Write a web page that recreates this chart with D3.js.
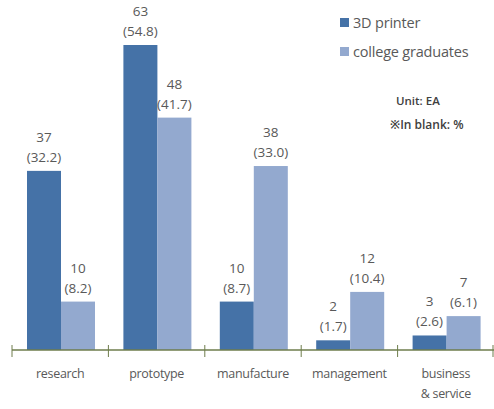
<!DOCTYPE html>
<html>
<head>
<meta charset="utf-8">
<script src="https://cdn.jsdelivr.net/npm/d3@7"></script>
<style>
body { margin: 0; background: #fff; }
text { font-family: "Open Sans", "Noto Sans", sans-serif; }
</style>
</head>
<body>
<div id="chart"></div>
<script>
var categories = ["research", "prototype", "manufacture", "management", "business\n& service"]
var printerCounts = [37, 63, 10, 2, 3]
var printerPct = ["32.2", "54.8", "8.7", "1.7", "2.6"]
var gradCounts = [10, 48, 38, 12, 7]
var gradPct = ["8.2", "41.7", "33.0", "10.4", "6.1"]
var seriesNames = ["3D printer", "college graduates"]
var colors = ["#4572a7", "#93a9cf"]

var width = 494
var height = 409
var svg = d3.select("#chart").append("svg").attr("width", width).attr("height", height)

var x = d3.scaleBand().domain(categories).range([12, 494]).paddingInner(0).paddingOuter(0)
var y = d3.scaleLinear().domain([0, 63]).range([350, 45])
var barW = 34
var offset = 15

var data = categories.map(function(c, i) {
    return {cat: c, vals: [
        {s: 0, v: printerCounts[i], p: printerPct[i]},
        {s: 1, v: gradCounts[i], p: gradPct[i]}
    ]}
})

var groups = svg.selectAll(".grp").data(data).enter().append("g")
    .attr("class", "grp")
    .attr("transform", function(d) { return "translate(" + x(d.cat) + ",0)" })

groups.selectAll("rect").data(function(d) { return d.vals }).enter().append("rect")
    .attr("x", function(d) { return offset + d.s * barW })
    .attr("y", function(d) { return y(d.v) })
    .attr("width", barW)
    .attr("height", function(d) { return y(0) - y(d.v) })
    .attr("fill", function(d) { return colors[d.s] })

// value labels
groups.selectAll(".val").data(function(d) { return d.vals }).enter().append("text")
    .attr("class", "val")
    .attr("x", function(d) { return offset + d.s * barW + barW / 2 })
    .attr("y", function(d) { return y(d.v) - 29 })
    .attr("text-anchor", "middle")
    .style("font-size", "13.5px").style("fill", "#595959")
    .text(function(d) { return d.v })
groups.selectAll(".pct").data(function(d) { return d.vals }).enter().append("text")
    .attr("class", "pct")
    .attr("x", function(d) { return offset + d.s * barW + barW / 2 })
    .attr("y", function(d) { return y(d.v) - 9 })
    .attr("text-anchor", "middle")
    .style("font-size", "13.5px").style("fill", "#595959")
    .text(function(d) { return "(" + d.p + ")" })

// x axis
var axisColor = "#6e7d4c"
svg.append("line").attr("x1", 12).attr("x2", 494).attr("y1", y(0)).attr("y2", y(0))
    .attr("stroke", axisColor).attr("stroke-width", 1.5)
var tickPos = categories.map(function(c) { return x(c) }).concat([x.range()[1] - 1])
svg.selectAll(".tick").data(tickPos).enter().append("line")
    .attr("x1", function(d) { return d }).attr("x2", function(d) { return d })
    .attr("y1", y(0) - 5).attr("y2", y(0) + 7)
    .attr("stroke", axisColor).attr("stroke-width", 1)

var catLabels = svg.selectAll(".cat").data(categories).enter().append("text")
    .attr("class", "cat")
    .attr("x", function(d) { return x(d) + x.bandwidth() / 2 })
    .attr("y", 378)
    .attr("text-anchor", "middle")
    .style("font-size", "12.5px").style("fill", "#595959").style("letter-spacing", "-0.3px")
catLabels.selectAll("tspan").data(function(d) { return d.split("\n") }).enter().append("tspan")
    .attr("x", function() { return d3.select(this.parentNode).attr("x") })
    .attr("dy", function(d, i) { return i == 0 ? 0 : 20 })
    .text(function(d) { return d })

// legend
var legend = svg.selectAll(".leg").data(seriesNames).enter().append("g")
    .attr("class", "leg")
    .attr("transform", function(d, i) { return "translate(340," + (18 + i * 29) + ")" })
legend.append("rect").attr("width", 9).attr("height", 9)
    .attr("fill", function(d, i) { return colors[i] })
legend.append("text").attr("x", 13).attr("y", 10)
    .style("font-size", "14.5px").style("fill", "#595959").style("letter-spacing", "-0.2px")
    .text(function(d) { return d })

svg.append("text").attr("x", 396).attr("y", 105)
    .style("font-size", "11.5px").style("font-weight", "600").style("fill", "#404040")
    .text("Unit: EA")
svg.append("text").attr("x", 390).attr("y", 129)
    .style("font-size", "12px").style("font-weight", "600").style("fill", "#404040")
    .text("※In blank: %")
</script>
</body>
</html>
